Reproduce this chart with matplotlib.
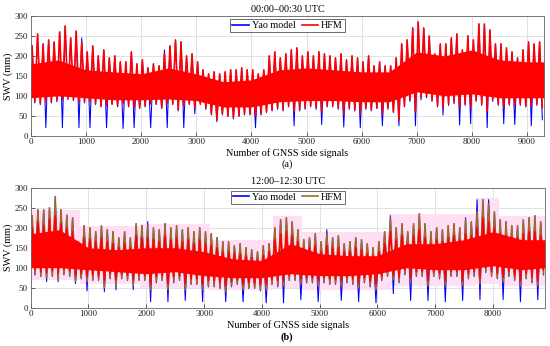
import numpy as np
import matplotlib
matplotlib.use("Agg")
import matplotlib.pyplot as plt

plt.rcParams['font.family'] = ['Liberation Serif', 'DejaVu Serif']

# ---------------- data (read per 100-signal bin: max / min) ----------------
BIN = 100
len_a = 9310
len_b = 8900

hfm_a_hi = [225, 255, 230, 240, 235, 260, 275, 245, 262, 235,
            210, 225, 200, 215, 195, 200, 185, 185, 210, 180,
            190, 170, 180, 175, 205, 225, 240, 235, 200, 205,
            185, 165, 155, 160, 155, 160, 165, 165, 170, 165,
            165, 155, 165, 200, 210, 195, 205, 215, 220, 200,
            210, 200, 210, 205, 200, 195, 205, 190, 200, 195,
            185, 200, 175, 185, 175, 175, 195, 230, 240, 270,
            285, 270, 250, 205, 230, 230, 245, 255, 215, 250,
            240, 280, 280, 265, 230, 230, 220, 210, 195, 215,
            235, 230, 235]
hfm_a_lo = [85, 80, 85, 85, 90, 90, 95, 90, 85, 85,
            85, 80, 75, 75, 80, 75, 80, 75, 70, 70,
            75, 80, 80, 70, 80, 80, 65, 75, 80, 70,
            80, 70, 55, 40, 55, 50, 45, 50, 55, 55,
            50, 55, 60, 65, 70, 65, 75, 60, 65, 70,
            75, 70, 60, 75, 75, 70, 55, 70, 65, 55,
            70, 65, 70, 55, 70, 60, 40, 75, 90, 60,
            95, 100, 90, 75, 70, 80, 85, 70, 80, 70,
            90, 80, 60, 90, 80, 70, 80, 75, 80, 75,
            75, 80, 70]
yao_a_hi = [225, 255, 230, 240, 235, 260, 275, 245, 262, 245,
            210, 225, 200, 215, 195, 200, 185, 185, 210, 180,
            190, 170, 180, 175, 215, 225, 240, 235, 200, 205,
            185, 165, 155, 160, 155, 160, 165, 165, 170, 165,
            165, 155, 165, 200, 210, 195, 205, 215, 220, 200,
            210, 200, 210, 205, 200, 195, 205, 190, 200, 195,
            185, 200, 175, 185, 175, 175, 195, 230, 240, 270,
            285, 270, 250, 205, 230, 230, 245, 255, 215, 250,
            240, 280, 280, 265, 230, 230, 220, 210, 195, 215,
            235, 230, 235]
yao_a_lo = [82, 78, 20, 82, 85, 20, 90, 88, 20, 82,
            20, 78, 72, 20, 78, 72, 18, 72, 20, 68,
            72, 20, 78, 68, 20, 78, 62, 20, 78, 55,
            78, 66, 52, 35, 52, 48, 42, 48, 52, 52,
            20, 52, 58, 62, 66, 62, 72, 25, 62, 66,
            72, 66, 28, 72, 72, 66, 22, 66, 62, 20,
            66, 62, 68, 25, 66, 58, 25, 72, 86, 25,
            90, 95, 86, 72, 52, 76, 80, 27, 76, 30,
            86, 76, 20, 86, 76, 30, 76, 28, 76, 72,
            25, 76, 40]
# dense central part of the HFM band in (a), read every 500 signals
core_a_x = [0, 500, 1000, 1500, 2000, 2500, 3000, 3500, 4000, 4500,
            5000, 5500, 6000, 6500, 7000, 7500, 8000, 8500, 9000, 9310]
core_a_lo = [95, 100, 95, 90, 90, 92, 88, 72, 72, 85,
             88, 88, 85, 85, 110, 100, 105, 95, 95, 95]
core_a_hi = [180, 190, 165, 160, 155, 170, 155, 135, 140, 165,
             170, 165, 160, 160, 210, 200, 215, 190, 185, 185]

hfm_b_hi = [230, 245, 245, 250, 278, 245, 230, 225, 165, 205,
            200, 190, 205, 195, 190, 175, 190, 175, 210, 205,
            205, 200, 195, 210, 200, 205, 195, 200, 190, 200,
            190, 185, 175, 165, 165, 155, 160, 150, 145, 140,
            155, 160, 200, 220, 225, 215, 195, 170, 175, 185,
            165, 185, 175, 180, 160, 165, 175, 170, 160, 150,
            165, 190, 225, 200, 210, 190, 210, 235, 210, 190,
            200, 195, 205, 210, 200, 220, 215, 240, 270, 260,
            240, 220, 215, 205, 205, 220, 225, 230, 215]
hfm_b_lo = [85, 80, 75, 80, 70, 85, 80, 65, 75, 65,
            70, 70, 50, 75, 55, 75, 70, 55, 70, 70,
            45, 65, 70, 45, 65, 70, 45, 60, 60, 45,
            55, 55, 50, 40, 55, 60, 45, 50, 50, 45,
            45, 60, 55, 55, 70, 70, 60, 65, 65, 55,
            65, 60, 60, 55, 65, 60, 50, 65, 55, 45,
            70, 80, 70, 65, 85, 65, 80, 80, 55, 80,
            75, 55, 80, 80, 55, 75, 80, 60, 90, 80,
            75, 65, 80, 70, 55, 75, 65, 55, 85]
yao_b_hi = [230, 245, 245, 250, 278, 245, 232, 225, 165, 205,
            200, 190, 205, 195, 190, 175, 190, 175, 210, 205,
            215, 200, 195, 210, 200, 205, 195, 200, 190, 200,
            190, 185, 175, 165, 165, 155, 160, 150, 145, 140,
            155, 160, 200, 220, 225, 215, 195, 170, 175, 185,
            165, 195, 175, 180, 160, 165, 175, 170, 160, 150,
            165, 190, 230, 200, 210, 190, 210, 235, 210, 190,
            200, 195, 205, 210, 200, 225, 215, 270, 270, 270,
            240, 220, 215, 205, 205, 220, 225, 230, 215]
yao_b_lo = [82, 78, 65, 78, 65, 82, 78, 60, 72, 42,
            68, 68, 40, 72, 45, 72, 68, 45, 68, 68,
            15, 62, 68, 15, 62, 68, 18, 58, 58, 15,
            52, 52, 48, 15, 52, 58, 15, 48, 48, 42,
            12, 58, 52, 12, 68, 68, 20, 62, 62, 15,
            62, 58, 58, 18, 62, 58, 15, 62, 52, 12,
            68, 78, 35, 62, 82, 18, 78, 78, 18, 78,
            72, 15, 78, 78, 18, 72, 78, 20, 88, 78,
            72, 20, 78, 68, 15, 72, 62, 20, 82]
red_b_hi = [200, 215, 205, 220, 230, 210, 200, 190, 150, 175,
            170, 165, 175, 165, 160, 150, 160, 150, 180, 175,
            175, 170, 165, 180, 170, 175, 165, 170, 160, 170,
            160, 155, 150, 140, 140, 135, 135, 130, 125, 120,
            130, 140, 170, 185, 190, 180, 165, 145, 150, 155,
            140, 155, 150, 150, 140, 140, 150, 145, 135, 130,
            140, 160, 190, 170, 180, 160, 180, 195, 175, 160,
            170, 165, 175, 180, 170, 185, 180, 200, 225, 215,
            200, 185, 180, 175, 175, 185, 190, 190, 180]
red_b_lo = [95, 90, 88, 92, 85, 95, 92, 80, 85, 78,
            82, 80, 68, 85, 70, 85, 82, 70, 82, 80,
            60, 78, 80, 60, 78, 80, 60, 72, 72, 60,
            68, 68, 62, 55, 66, 70, 58, 62, 62, 58,
            58, 70, 68, 68, 80, 80, 72, 75, 75, 68,
            75, 72, 72, 68, 75, 72, 62, 75, 66, 58,
            80, 90, 82, 76, 95, 76, 90, 90, 68, 90,
            86, 68, 90, 90, 68, 86, 90, 72, 100, 90,
            86, 76, 90, 80, 68, 86, 76, 68, 95]
core_b_x = [0, 500, 1000, 1500, 2000, 2500, 3000, 3500, 4000, 4500,
            5000, 5500, 6000, 6500, 7000, 7500, 8000, 8500, 8900]
core_b_lo = [100, 100, 95, 90, 85, 90, 80, 75, 75, 85,
             80, 80, 85, 100, 95, 95, 105, 95, 100]
core_b_hi = [185, 195, 150, 145, 150, 150, 140, 122, 118, 160,
             135, 130, 130, 160, 160, 170, 190, 170, 170]
# light pink shaded blocks in panel (b): start, end, lower, upper
pink_start = [0, 850, 1900, 3100, 4200, 4700, 6200, 7700, 8100]
pink_end = [850, 1900, 3100, 4200, 4700, 6200, 7700, 8100, 8900]
pink_lo = [70, 60, 50, 45, 50, 45, 55, 60, 55]
pink_hi = [245, 205, 210, 170, 230, 190, 235, 275, 230]

titles = ["00:00\u201300:30 UTC", "12:00\u201312:30 UTC"]
xlabel = "Number of GNSS side signals"
ylabel = "SWV (mm)"
xticks_a = [0, 1000, 2000, 3000, 4000, 5000, 6000, 7000, 8000, 9000]
xticks_b = [0, 1000, 2000, 3000, 4000, 5000, 6000, 7000, 8000]
yticks = [0, 50, 100, 150, 200, 250, 300]

BLUE = '#0000ff'
RED = '#ff0000'
BROWN = '#a0692e'
PINK = '#ffdff4'


def zigzag(hi, lo):
    n = len(hi)
    x = np.empty(2 * n)
    y = np.empty(2 * n)
    x[0::2] = np.arange(n) * BIN + BIN * 0.25
    x[1::2] = np.arange(n) * BIN + BIN * 0.75
    y[0::2] = hi
    y[1::2] = lo
    return x, y


fig = plt.figure(figsize=(5.5, 3.46), dpi=100)
ax_a = fig.add_axes([0.0558, 0.6078, 0.9338, 0.3460])
ax_b = fig.add_axes([0.0558, 0.1107, 0.9351, 0.3468])

LW_BLUE = 0.75
LW_TOP = 1.15


def style(ax, xticks, xmax, title):
    ax.set_xlim(0, xmax)
    ax.set_ylim(0, 300)
    ax.set_xticks(xticks)
    ax.set_yticks(yticks)
    ax.grid(True, color='#dcdcdc', lw=0.6)
    ax.set_axisbelow(True)
    ax.tick_params(direction='in', length=3, width=0.5, labelsize=6.5,
                   colors='#222222', pad=2)
    for s in ax.spines.values():
        s.set_color('#666666')
        s.set_linewidth(0.6)
        s.set_zorder(10)
    ax.set_title(title, fontsize=7.3, pad=3)
    ax.set_ylabel(ylabel, fontsize=7.3, labelpad=1)
    ax.set_xlabel(xlabel, fontsize=7.3, labelpad=1)


def add_legend(ax):
    leg = ax.legend(loc='upper center', ncol=2, fontsize=7.3, frameon=True,
                    fancybox=False, edgecolor='#333333', framealpha=1,
                    borderpad=0.2, handlelength=1.6, handletextpad=0.3,
                    columnspacing=0.6, borderaxespad=0.3)
    leg.get_frame().set_linewidth(0.5)
    for h in leg.get_lines():
        h.set_linewidth(1.2)
    leg.set_zorder(20)


# panel (a)
xa, ya = zigzag(yao_a_hi, yao_a_lo)
ax_a.plot(xa, ya, color=BLUE, lw=LW_BLUE, label='Yao model', zorder=2)
ax_a.fill_between(core_a_x, core_a_lo, core_a_hi, color=RED, lw=0, zorder=3)
xh, yh = zigzag(hfm_a_hi, hfm_a_lo)
ax_a.plot(xh, yh, color=RED, lw=LW_TOP, label='HFM', zorder=4)
style(ax_a, xticks_a, len_a, titles[0])
add_legend(ax_a)

# panel (b)
for s, e, lo, hi in zip(pink_start, pink_end, pink_lo, pink_hi):
    ax_b.fill_between([s, e], [lo, lo], [hi, hi], color=PINK, lw=0, zorder=1)
xb, yb = zigzag(yao_b_hi, yao_b_lo)
ax_b.plot(xb, yb, color=BLUE, lw=LW_BLUE, label='Yao model', zorder=2)
xh, yh = zigzag(hfm_b_hi, hfm_b_lo)
ax_b.plot(xh, yh, color=BROWN, lw=LW_TOP, label='HFM', zorder=3)
ax_b.fill_between(core_b_x, core_b_lo, core_b_hi, color=RED, lw=0, zorder=4)
xr, yr = zigzag(red_b_hi, red_b_lo)
ax_b.plot(xr, yr, color=RED, lw=LW_TOP, zorder=5)
style(ax_b, xticks_b, len_b, titles[1])
add_legend(ax_b)

fig.text(0.522, 1 - 164 / 346, '(a)', ha='center', va='center', fontsize=7.3)
fig.text(0.522, 1 - 337 / 346, '(b)', ha='center', va='center', fontsize=7.3,
         fontweight='bold')

fig.savefig('out.png', dpi=100)
